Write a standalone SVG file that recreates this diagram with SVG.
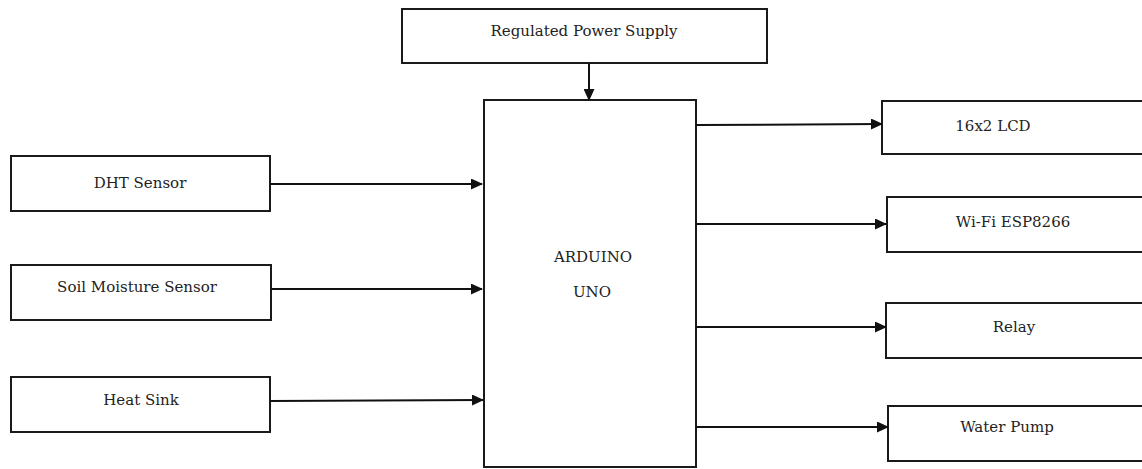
<svg xmlns="http://www.w3.org/2000/svg" width="1142" height="469" viewBox="0 0 1142 469">
<style>
.box{fill:#fff;stroke:#1a1a1a;stroke-width:2}
.t{font-family:"DejaVu Serif","Liberation Serif",serif;font-size:15px;fill:#222;text-anchor:middle}
.c line{stroke:#111;stroke-width:2}
</style>
<defs>
<marker id="ah" markerWidth="12" markerHeight="11" refX="11" refY="5.5" orient="auto" markerUnits="userSpaceOnUse">
<path d="M0,0 L12,5.5 L0,11 Z" fill="#111"/>
</marker>
</defs>
<rect width="1142" height="469" fill="#fff"/>
<g id="power"><rect class="box" x="402" y="9" width="365" height="54"/><text class="t" x="584" y="36">Regulated Power Supply</text></g>
<g id="arduino"><rect class="box" x="484" y="100" width="212" height="367"/><text class="t" x="593" y="262">ARDUINO</text><text class="t" x="592" y="297">UNO</text></g>
<g id="dht"><rect class="box" x="11" y="156" width="259" height="55"/><text class="t" x="140" y="188">DHT Sensor</text></g>
<g id="soil"><rect class="box" x="11" y="265" width="260" height="55"/><text class="t" x="137" y="292">Soil Moisture Sensor</text></g>
<g id="heatsink"><rect class="box" x="11" y="377" width="259" height="55"/><text class="t" x="141" y="405">Heat Sink</text></g>
<g id="lcd"><rect class="box" x="882" y="101" width="262" height="53"/><text class="t" x="993" y="131">16x2 LCD</text></g>
<g id="wifi"><rect class="box" x="887" y="197" width="257" height="55"/><text class="t" x="1013" y="227">Wi-Fi ESP8266</text></g>
<g id="relay"><rect class="box" x="886" y="303" width="258" height="55"/><text class="t" x="1014" y="332">Relay</text></g>
<g id="pump"><rect class="box" x="888" y="406" width="256" height="55"/><text class="t" x="1007" y="432">Water Pump</text></g>
<g class="c" id="connectors">
<line x1="589" y1="63" x2="589" y2="100" marker-end="url(#ah)"/>
<line x1="270" y1="184" x2="482" y2="184" marker-end="url(#ah)"/>
<line x1="271" y1="289" x2="482" y2="289" marker-end="url(#ah)"/>
<line x1="270" y1="401" x2="483" y2="400" marker-end="url(#ah)"/>
<line x1="696" y1="125" x2="882" y2="124" marker-end="url(#ah)"/>
<line x1="696" y1="224" x2="886" y2="224" marker-end="url(#ah)"/>
<line x1="696" y1="327" x2="886" y2="327" marker-end="url(#ah)"/>
<line x1="696" y1="427" x2="888" y2="427" marker-end="url(#ah)"/>
</g>
</svg>
